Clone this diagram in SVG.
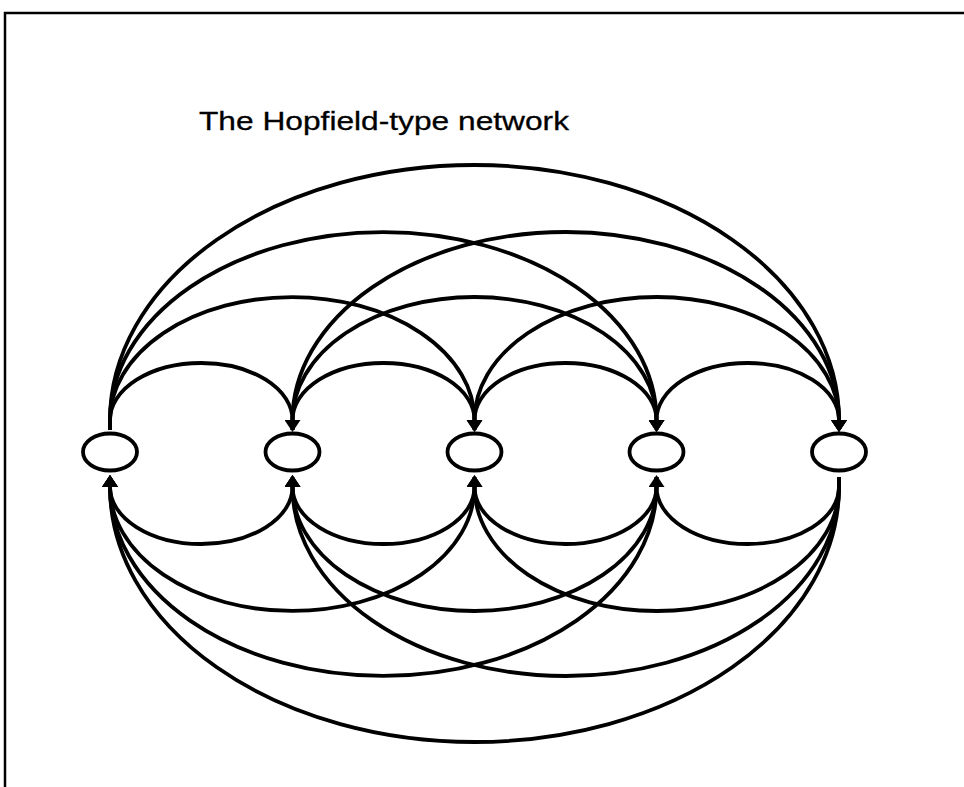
<svg xmlns="http://www.w3.org/2000/svg" width="964" height="787" viewBox="0 0 964 787">
<style>
.bd{fill:none;stroke:#000;stroke-width:2.5}
.c{fill:none;stroke:#000;stroke-width:3.8;stroke-linecap:butt}
.n{fill:#fff;stroke:#000;stroke-width:3.8}
.t{font-family:"Liberation Sans",Arial,sans-serif;font-size:26px;fill:#000;stroke:#000;stroke-width:0.3}
</style>
<defs>
<marker id="ah" markerUnits="userSpaceOnUse" markerWidth="12" markerHeight="16" viewBox="0 0 12 16" refX="0" refY="8" orient="auto">
<path d="M0,0 L12,8 L0,16 z" fill="#000"/>
</marker>
</defs>
<rect width="964" height="787" fill="#fff"/>
<path class="bd" d="M5,787 V13 H964"/>
<text class="t" x="199" y="130" textLength="370" lengthAdjust="spacingAndGlyphs">The Hopfield-type network</text>
<g id="connectors">
<g marker-end="url(#ah)">
<path class="c" d="M110,430 V420 A91.25,57 0 0 1 292.5,420"/>
<path class="c" d="M292.5,430 V420 A91,57 0 0 1 474.5,420"/>
<path class="c" d="M474.5,430 V420 A91,57 0 0 1 656.5,420"/>
<path class="c" d="M656.5,430 V420 A91.25,57 0 0 1 839,420"/>
<path class="c" d="M110,430 V420 A182.25,123 0 0 1 474.5,420"/>
<path class="c" d="M292.5,430 V420 A182,123 0 0 1 656.5,420"/>
<path class="c" d="M474.5,430 V420 A182.25,123 0 0 1 839,420"/>
<path class="c" d="M110,430 V420 A273.25,188 0 0 1 656.5,420"/>
<path class="c" d="M292.5,430 V420 A273.25,188 0 0 1 839,420"/>
<path class="c" d="M110,430 V420 A364.5,255 0 0 1 839,420"/>
<path class="c" d="M292.5,477 V487 A91.25,57 0 0 1 110,487"/>
<path class="c" d="M474.5,477 V487 A91,57 0 0 1 292.5,487"/>
<path class="c" d="M656.5,477 V487 A91,57 0 0 1 474.5,487"/>
<path class="c" d="M839,477 V487 A91.25,57 0 0 1 656.5,487"/>
<path class="c" d="M474.5,477 V487 A182.25,124 0 0 1 110,487"/>
<path class="c" d="M656.5,477 V487 A182,124 0 0 1 292.5,487"/>
<path class="c" d="M839,477 V487 A182.25,124 0 0 1 474.5,487"/>
<path class="c" d="M656.5,477 V487 A273.25,189 0 0 1 110,487"/>
<path class="c" d="M839,477 V487 A273.25,189 0 0 1 292.5,487"/>
<path class="c" d="M839,477 V487 A364.5,255 0 0 1 110,487"/>
</g>
</g>
<g id="node1"><ellipse class="n" cx="110" cy="452" rx="27" ry="18.5"/></g>
<g id="node2"><ellipse class="n" cx="292.5" cy="452" rx="27" ry="18.5"/></g>
<g id="node3"><ellipse class="n" cx="474.5" cy="452" rx="27" ry="18.5"/></g>
<g id="node4"><ellipse class="n" cx="656.5" cy="452" rx="27" ry="18.5"/></g>
<g id="node5"><ellipse class="n" cx="839" cy="452" rx="27" ry="18.5"/></g>
</svg>
